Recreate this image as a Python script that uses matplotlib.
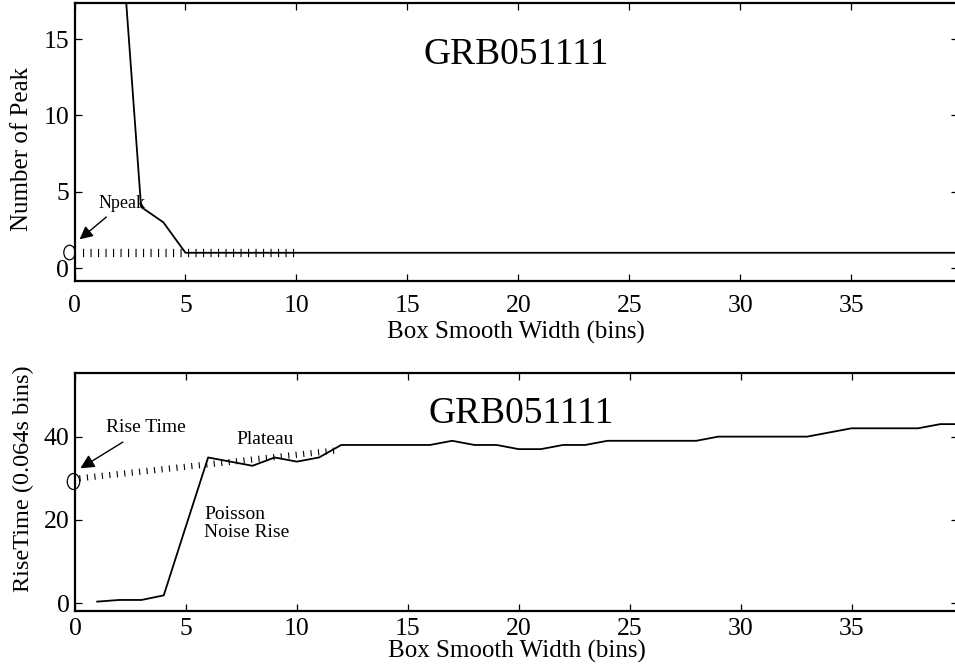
import numpy as np
import matplotlib
matplotlib.use("Agg")
import matplotlib.pyplot as plt
from matplotlib.path import Path
from matplotlib.transforms import Affine2D

plt.rcParams['font.family'] = ['Liberation Serif', 'DejaVu Serif']
plt.rcParams['lines.scale_dashes'] = False

# ---------------- data ----------------
title = "GRB051111"
xlabel = "Box Smooth Width (bins)"

width_top = [2, 3, 4, 5, 6, 7, 8, 9, 10, 11, 12, 13, 14, 15, 16, 17, 18, 19, 20,
             21, 22, 23, 24, 25, 26, 27, 28, 29, 30, 31, 32, 33, 34, 35, 36, 37,
             38, 39, 40]
npeak = [24, 4, 3, 1, 1, 1, 1, 1, 1, 1, 1, 1, 1, 1, 1, 1, 1, 1, 1,
         1, 1, 1, 1, 1, 1, 1, 1, 1, 1, 1, 1, 1, 1, 1, 1, 1,
         1, 1, 1]
npeak_fit_x = [0.4, 10.0]
npeak_fit_y = [1.0, 1.0]
npeak_est = (-0.26, 1.08)

width_bot = list(range(1, 41))
risetime = [0.4, 0.8, 0.8, 1.9, 18.5, 35, 34, 33, 35, 34,
            35, 38, 38, 38, 38, 38, 39, 38, 38, 37,
            37, 38, 38, 39, 39, 39, 39, 39, 40, 40,
            40, 40, 40, 41, 42, 42, 42, 42, 43, 43]
plateau_fit_x = [0.2, 11.8]
plateau_fit_y = [30.0, 36.7]
rise_est = (-0.1, 29.4)

xticks = [0, 5, 10, 15, 20, 25, 30, 35]
yticks_top = [0, 5, 10, 15]
yticks_bot = [0, 20, 40]

# ---------------- figure ----------------
W, H = 955, 672
fig = plt.figure(figsize=(W / 100, H / 100), dpi=100)

def px_axes(l, t, r, b):
    return fig.add_axes([l / W, 1 - b / H, (r - l) / W, (b - t) / H])

ax1 = px_axes(74.5, 3.3, 958, 281)
ax2 = px_axes(75, 373.3, 958, 610.7)

# elliptical open marker
circ = Path.unit_circle()
ell = Path(Affine2D().scale(0.78, 1.0).transform(circ.vertices), circ.codes)

for ax in (ax1, ax2):
    for s in ax.spines.values():
        s.set_linewidth(1.6)
    ax.tick_params(direction='in', length=5, width=0.9, top=True, right=True,
                   labelsize=18.5)
    ax.set_xticks(xticks)
    ax.set_xlim(0, 39.8)

# ---- top panel ----
ax1.plot(width_top, npeak, color='black', lw=1.3)
ax1.plot(npeak_fit_x, npeak_fit_y, color='black', lw=6, dashes=(0.8, 4.6),
         solid_capstyle='butt', dash_capstyle='butt')
ax1.plot([npeak_est[0]], [npeak_est[1]], marker=ell, ms=10.5, mfc='none',
         mec='black', mew=0.9, clip_on=False, ls='none')
ax1.set_ylim(-0.85, 17.35)
ax1.set_yticks(yticks_top)
ax1.tick_params(axis='x', pad=10)
ax1.tick_params(axis='y', pad=4)
ax1.set_ylabel("Number of Peak", fontsize=18)
ax1.yaxis.set_label_coords(-0.059, 0.477)
ax1.yaxis.label.set_va('center')
ax1.set_xlabel(xlabel, fontsize=18)
ax1.xaxis.set_label_coords(0.5, -0.186)
ax1.xaxis.label.set_va('center')
ax1.text(0.5, 0.815, title, transform=ax1.transAxes, ha='center', va='center',
         fontsize=27)
ax1.annotate("Npeak", xy=(0.23, 1.88), xytext=(1.08, 4.2), fontsize=13,
             va='center', ha='left',
             arrowprops=dict(arrowstyle='-|>,head_length=0.6,head_width=0.3',
                             color='black', lw=1, shrinkA=2, shrinkB=0))

# ---- bottom panel ----
ax2.plot(width_bot, risetime, color='black', lw=1.3)
ax2.plot(plateau_fit_x, plateau_fit_y, color='black', lw=4.5, dashes=(0.8, 4.6),
         solid_capstyle='butt', dash_capstyle='butt')
ax2.plot([rise_est[0]], [rise_est[1]], marker=ell, ms=11.5, mfc='none',
         mec='black', mew=0.9, clip_on=False, ls='none')
ax2.set_ylim(-1.78, 55.2)
ax2.set_yticks(yticks_bot)
ax2.tick_params(axis='x', pad=5)
ax2.tick_params(axis='y', pad=4)
ax2.set_ylabel("RiseTime (0.064s bins)", fontsize=17.5)
ax2.yaxis.set_label_coords(-0.058, 0.557)
ax2.yaxis.label.set_va('center')
ax2.set_xlabel(xlabel, fontsize=18)
ax2.xaxis.set_label_coords(0.5, -0.17)
ax2.xaxis.label.set_va('center')
ax2.text(0.505, 0.83, title, transform=ax2.transAxes, ha='center', va='center',
         fontsize=27)
ax2.annotate("Rise Time", xy=(0.24, 32.4), xytext=(1.4, 42.1), fontsize=14,
             va='center', ha='left',
             arrowprops=dict(arrowstyle='-|>,head_length=0.6,head_width=0.3',
                             color='black', lw=1, shrinkA=4, shrinkB=0))
ax2.text(7.26, 39.4, "Plateau", fontsize=14, va='center', ha='left')
ax2.text(5.83, 19.2, "Poisson\nNoise Rise", fontsize=14, va='center', ha='left',
         linespacing=1.05)

fig.savefig("out.png", dpi=100)
